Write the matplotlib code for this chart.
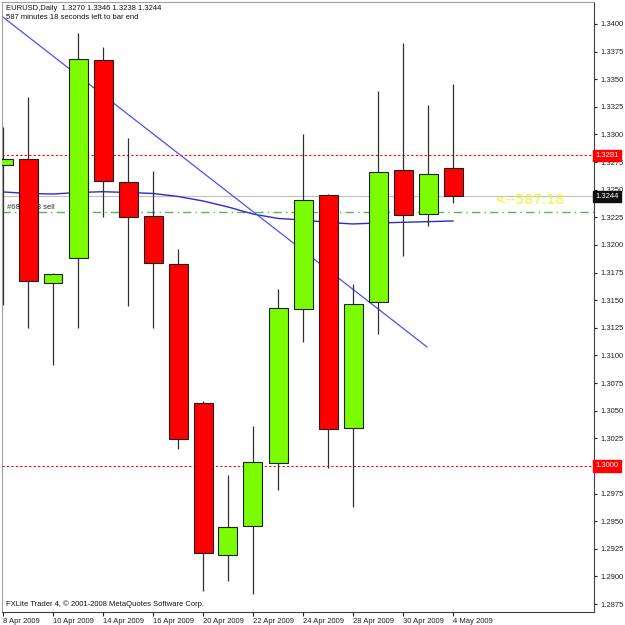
import numpy as np
import matplotlib
matplotlib.use("Agg")
import matplotlib.pyplot as plt

# daily EURUSD bars, 8 Apr 2009 .. 4 May 2009
dates = ["8 Apr", "9 Apr", "10 Apr", "13 Apr", "14 Apr", "15 Apr", "16 Apr", "17 Apr",
         "20 Apr", "21 Apr", "22 Apr", "23 Apr", "24 Apr", "27 Apr", "28 Apr", "29 Apr",
         "30 Apr", "1 May", "4 May"]
opens = [1.3272, 1.3278, 1.3166, 1.3188, 1.3367, 1.3257, 1.3226, 1.3183, 1.3057, 1.2919,
         1.2946, 1.3003, 1.3142, 1.3245, 1.3034, 1.3148, 1.3268, 1.3228, 1.3270]
highs = [1.3307, 1.3334, 1.3175, 1.3392, 1.3379, 1.3297, 1.3267, 1.3196, 1.3059, 1.2992,
         1.3036, 1.3160, 1.3300, 1.3246, 1.3165, 1.3339, 1.3383, 1.3327, 1.3346]
lows = [1.3146, 1.3125, 1.3091, 1.3125, 1.3225, 1.3145, 1.3125, 1.3015, 1.2887, 1.2896,
        1.2884, 1.2978, 1.3112, 1.2998, 1.2963, 1.3119, 1.3190, 1.3217, 1.3238]
closes = [1.3278, 1.3167, 1.3174, 1.3368, 1.3258, 1.3225, 1.3184, 1.3024, 1.2921, 1.2945,
          1.3004, 1.3143, 1.3241, 1.3033, 1.3147, 1.3266, 1.3227, 1.3264, 1.3244]
ma = [1.32480, 1.32466, 1.32461, 1.32475, 1.32482, 1.32475, 1.32466, 1.32439, 1.32398,
      1.32344, 1.32280, 1.32240, 1.32226, 1.32204, 1.32190, 1.32199, 1.32205, 1.32211, 1.32217]

tick_labels = ["8 Apr 2009", "10 Apr 2009", "14 Apr 2009", "16 Apr 2009", "20 Apr 2009",
               "22 Apr 2009", "24 Apr 2009", "28 Apr 2009", "30 Apr 2009", "4 May 2009"]
trend_x = [-0.5, 16.96]
trend_y = [1.34150, 1.31077]
level_hi = 1.3281
level_lo = 1.3000
bid = 1.3244
order_price = 1.3230

plt.rcParams['font.family'] = ['Liberation Sans', 'DejaVu Sans']

o = np.array(opens); h = np.array(highs); l = np.array(lows); c = np.array(closes)
x = np.arange(len(opens))
up = c >= o

fig = plt.figure(figsize=(6.25, 6.25), dpi=100)
ax = fig.add_axes([2/625, 13/625, 592/625, 610/625])
ax.set_xlim(-0.04, 23.64)
ax.set_ylim(1.28678, 1.34199)

# reference lines
ax.axhline(level_hi, color='red', lw=0.8, ls=(0, (2, 2)), zorder=1)
ax.axhline(level_lo, color='red', lw=0.8, ls=(0, (2, 2)), zorder=1)
ax.axhline(bid, color='#c0c0c0', lw=0.8, zorder=1)
ax.axhline(order_price, color='#60b060', lw=1.0, ls=(0, (6, 3, 1, 3)), zorder=1)
ax.text(0.16, order_price + 0.0001, "#6849753 sell", fontsize=5.5, color='#303030',
        va='bottom', ha='left', zorder=1)

# moving average and trend line
ax.plot(x, ma, color='#2a2ad8', lw=1.0, zorder=1.5)
ax.plot(trend_x, trend_y, color='#4f4fee', lw=0.9, zorder=1.5)

# candles
ax.vlines(x, l, h, color='#303030', lw=0.9, zorder=2)
body_lo = np.minimum(o, c)
body_h = np.abs(c - o)
ax.bar(x[up], body_h[up], bottom=body_lo[up], width=0.76, color='#7cfc00',
       edgecolor='#202020', lw=0.8, zorder=3)
ax.bar(x[~up], body_h[~up], bottom=body_lo[~up], width=0.76, color='#ff0000',
       edgecolor='#202020', lw=0.8, zorder=3)

# axes styling
for s in ['left', 'top']:
    ax.spines[s].set_color('#a0a0a0')
    ax.spines[s].set_linewidth(0.8)
for s in ['right', 'bottom']:
    ax.spines[s].set_color('#404040')
    ax.spines[s].set_linewidth(0.8)

yt = np.arange(1.2875, 1.34001, 0.0025)
ax.yaxis.tick_right()
ax.set_yticks(yt)
# 1.3000 sits under the red level box
ax.set_yticklabels(["" if abs(v - level_lo) < 1e-6 else f"{v:.4f}" for v in yt])
ax.tick_params(axis='y', direction='out', length=2, width=0.8, pad=3,
               labelsize=5.5, colors='#202020')

ax.set_xticks(x[::2])
ax.set_xticklabels(tick_labels, ha='left')
ax.tick_params(axis='x', direction='out', length=3, width=0.8, pad=1,
               labelsize=5.5, colors='#202020')

# price boxes on the right scale
box_kw = dict(transform=ax.get_yaxis_transform(), fontsize=5.5, color='white',
              ha='left', va='center', clip_on=False, zorder=5)
ax.text(1.003, level_hi, "1.3281", bbox=dict(boxstyle='square,pad=0.3', fc='red', ec='red'), **box_kw)
ax.text(1.003, bid, "1.3244", bbox=dict(boxstyle='square,pad=0.3', fc='#101010', ec='#101010'), **box_kw)
ax.text(1.003, level_lo, "1.3000", bbox=dict(boxstyle='square,pad=0.3', fc='red', ec='red'), **box_kw)

# countdown text
ax.text(19.64, bid - 0.0003, "<--587:18", fontsize=10, color='#f2f230',
        family='DejaVu Sans', va='center', ha='left', zorder=4)

# header and footer
ax.text(0.006, 0.995, "EURUSD,Daily  1.3270 1.3346 1.3238 1.3244", transform=ax.transAxes,
        fontsize=5.5, color='#101010', va='top', ha='left', zorder=6)
ax.text(0.006, 0.981, "587 minutes 18 seconds left to bar end", transform=ax.transAxes,
        fontsize=5.5, color='#101010', va='top', ha='left', zorder=6)
ax.text(0.006, 0.006, "FXLite Trader 4, \u00a9 2001-2008 MetaQuotes Software Corp.",
        transform=ax.transAxes, fontsize=5.5, color='#101010', va='bottom', ha='left', zorder=6)

fig.savefig("out.png", dpi=100, facecolor='white')
